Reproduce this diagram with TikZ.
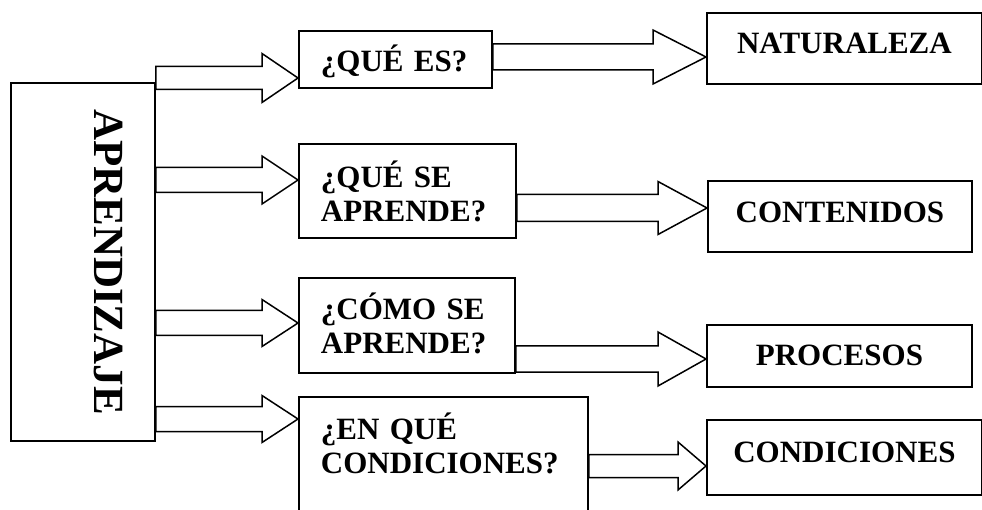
\documentclass[tikz,border=0pt]{standalone}
\usepackage{fontspec}
\setmainfont{Liberation Serif}
\usetikzlibrary{calc}
\tikzstyle{box} = [draw, line width=1.9pt, rectangle, inner ysep=0pt, anchor=north west,
  font=\fontsize{31}{34}\selectfont\bfseries]
\tikzstyle{ask} = [box, inner xsep=22pt, align=left]
\tikzstyle{what} = [box, inner xsep=0pt, align=center]
\tikzstyle{arrowline} = [line width=1.5pt, line join=miter]

% hollow block arrow: from, tip, head length, half shaft, half head
\newcommand{\hollowarrow}[5]{%
  \draw[arrowline] let \p1 = #1, \p2 = #2 in
    (\x1,\y2+#4) -- (\x2-#3,\y2+#4) -- (\x2-#3,\y2+#5) -- (\p2)
    -- (\x2-#3,\y2-#5) -- (\x2-#3,\y2-#4) -- (\x1,\y2-#4) -- cycle;}

\begin{document}
\begin{tikzpicture}[x=1pt, y=-1pt]
    \useasboundingbox (0,0) rectangle (982,510);
    \clip (0,0) rectangle (982,510);
    % main box
    \node (apr) [draw, line width=1.9pt, rotate=-90, minimum width=358pt, minimum height=144pt,
      text height=28pt, text depth=50pt, font=\fontsize{43}{43}\selectfont\bfseries]
      at (83,262) {APRENDIZAJE};
    % questions
    \node (q1) [ask, text width=149pt, minimum height=57pt, text height=41pt, text depth=16pt]
      at (298,30) {¿QUÉ ES?};
    \node (q2) [ask, text width=173pt, minimum height=94pt, text height=44pt, text depth=50pt]
      at (298,143) {¿QUÉ SE\\APRENDE?};
    \node (q3) [ask, text width=172pt, minimum height=95pt, text height=42pt, text depth=53pt]
      at (298,277) {¿CÓMO SE\\APRENDE?};
    \node (q4) [ask, text width=245pt, minimum height=124pt, text height=43pt, text depth=81pt]
      at (298,396) {¿EN QUÉ\\CONDICIONES?};
    % answers
    \node (nat) [what, minimum width=275pt, text width=275pt, text height=41pt, text depth=30pt]
      at (706,12) {NATURALEZA};
    \node (con) [what, minimum width=264pt, text width=264pt, text height=42pt, text depth=29pt]
      at (707,180) {CONTENIDOS};
    \node (pro) [what, minimum width=265pt, text width=265pt, text height=41pt, text depth=21pt]
      at (706,324) {PROCESOS};
    \node (cnd) [what, minimum width=275pt, text width=275pt, text height=43pt, text depth=32pt]
      at (706,419) {CONDICIONES};
    % arrows
    \hollowarrow{(apr.north)}{($(q1.north west)+(0,48)$)}{36pt}{11.5pt}{24.5pt}
    \hollowarrow{(apr.north)}{($(q2.north west)+(0,37)$)}{36pt}{12.5pt}{24pt}
    \hollowarrow{(apr.north)}{($(q3.north west)+(0,46)$)}{36pt}{12.5pt}{23.5pt}
    \hollowarrow{(apr.north)}{($(q4.north west)+(0,23)$)}{36pt}{12.5pt}{23.5pt}
    \hollowarrow{(q1.east)}{($(nat.north west)+(0,45)$)}{53pt}{13pt}{27pt}
    \hollowarrow{(q2.east)}{($(con.north west)+(0,28)$)}{49pt}{13.5pt}{26.5pt}
    \hollowarrow{(q3.east)}{($(pro.north west)+(0,35)$)}{48pt}{13pt}{27pt}
    \hollowarrow{(q4.east)}{($(cnd.north west)+(0,47)$)}{28pt}{11.5pt}{24pt}
\end{tikzpicture}
\end{document}
